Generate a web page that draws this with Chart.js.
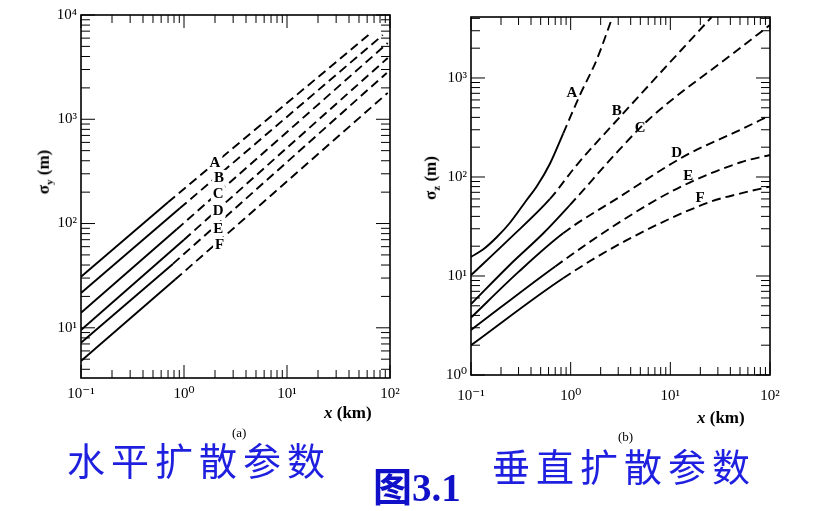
<!DOCTYPE html>
<html>
<head>
<meta charset="utf-8">
<script src="https://cdn.jsdelivr.net/npm/chart.js@4.4.1/dist/chart.umd.min.js"></script>
<style>
  body { margin: 0; background: #fff; width: 825px; height: 511px; position: relative; overflow: hidden; font-family: "Liberation Serif", "DejaVu Serif", serif; }
  canvas { position: absolute; top: 0; }
  .t { position: absolute; white-space: nowrap; color: #000; line-height: 1; }
  .ytitle { font-size: 17px; font-weight: bold; transform: translate(-50%, -50%) rotate(-90deg); }
  .ytitle sub { font-size: 11px; }
  .xtitle { font-size: 17px; font-weight: bold; }
  .cn { color: #1f1fe0; font-family: "Noto Sans CJK SC", sans-serif; font-size: 38px; letter-spacing: 6px; }
  .fig { color: #1010c8; font-family: "Liberation Serif", "Noto Sans CJK SC", serif; font-weight: bold; font-size: 39px; }
</style>
</head>
<body>
<canvas id="chartY" width="410" height="410" style="left:0"></canvas>
<canvas id="chartZ" width="415" height="410" style="left:410px"></canvas>

<div class="t ytitle" style="left:45px;top:172px">σ<sub>y</sub> (m)</div>
<div class="t ytitle" style="left:432px;top:178px">σ<sub>z</sub> (m)</div>
<div class="t xtitle" style="left:324px;top:404px"><i>x</i> (km)</div>
<div class="t xtitle" style="left:697px;top:409px"><i>x</i> (km)</div>
<div class="t" style="left:232px;top:426px;font-size:13px">(a)</div>
<div class="t" style="left:618px;top:430px;font-size:13px">(b)</div>
<div class="t cn" style="left:67px;top:440px">水平扩散参数</div>
<div class="t cn" style="left:492px;top:446px">垂直扩散参数</div>
<div class="t fig" style="left:373px;top:468px">图3.1</div>

<script>
// stability classes
const classes = ['A', 'B', 'C', 'D', 'E', 'F'];

// horizontal dispersion sigma_y (m) vs distance x (km)
const sigmaYDist = [
  [0.1, 0.70, 67],
  [0.1, 0.91, 85],
  [0.1, 0.85, 95],
  [0.1, 1.0, 95],
  [0.1, 0.78, 93],
  [0.1, 0.82, 95]
];
const sigmaYVal = [
  [30.8, 160, 6870],
  [21.6, 140, 6420],
  [13.9, 88, 5380],
  [9.5, 70, 3870],
  [7.2, 41, 2780],
  [4.8, 29, 1790]
];
const sigmaYDashFrom = [0.70, 0.91, 0.85, 1.0, 0.78, 0.82];
const sigmaYLabelX = [2.0, 2.19, 2.15, 2.15, 2.15, 2.22];
const sigmaYLabelY = [389, 280, 196, 135, 91, 64];

// vertical dispersion sigma_z (m) vs distance x (km)
const sigmaZDist = [
  [0.1, 0.133, 0.181, 0.246, 0.362, 0.456, 0.621, 0.843, 1.24, 1.82, 2.63],
  [0.1, 0.246, 0.62, 1.15, 3.2, 26],
  [0.1, 0.246, 0.532, 0.98, 3.1, 6.0, 42.9, 100],
  [0.1, 0.3, 0.84, 3.1, 14.6, 50, 100],
  [0.1, 0.7, 3.1, 11.6, 50, 100],
  [0.1, 0.84, 3.65, 25, 50, 100]
];
const sigmaZVal = [
  [15.6, 18.6, 24.6, 34.5, 58.6, 80, 137, 276, 675, 1520, 4130],
  [10.2, 24, 60, 132, 415, 4130],
  [5.2, 13, 27, 52, 190, 377, 1780, 3430],
  [3.8, 11, 27, 63, 167, 298, 420],
  [2.85, 12.5, 35, 76, 140, 167],
  [2.0, 9.5, 23, 56, 68, 80]
];
const sigmaZDashFrom = [0.843, 0.62, 0.98, 0.84, 0.7, 0.84];
const sigmaZLabelX = [1.03, 2.9, 4.97, 11.6, 15.1, 19.9];
const sigmaZLabelY = [722, 475, 322, 180, 105, 63];

// tick labels
const xTicks = [0.1, 1, 10, 100];
const xTickLabels = ['10⁻¹', '10⁰', '10¹', '10²'];
const yTicksY = [10, 100, 1000, 10000];
const yTickLabelsY = ['10¹', '10²', '10³', '10⁴'];
const yTicksZ = [1, 10, 100, 1000];
const yTickLabelsZ = ['10⁰', '10¹', '10²', '10³'];

const tickFont = { family: '"Liberation Serif", "DejaVu Serif", serif', size: 15 };

// inward log ticks on all four sides + frame
const frameTicks = {
  id: 'frameTicks',
  afterDatasetsDraw(chart) {
    const { ctx, chartArea: a, scales: { x, y } } = chart;
    const line = (x1, y1, x2, y2) => { ctx.beginPath(); ctx.moveTo(x1, y1); ctx.lineTo(x2, y2); ctx.stroke(); };
    const logSteps = (min, max) => {
      const out = [];
      for (let k = Math.floor(Math.log10(min)); k <= Math.ceil(Math.log10(max)); k++) {
        for (let m = 1; m <= 9; m++) {
          const v = m * Math.pow(10, k);
          if (v >= min * 0.999 && v <= max * 1.001) out.push([v, m === 1]);
        }
      }
      return out;
    };
    ctx.save();
    ctx.strokeStyle = '#000';
    ctx.lineWidth = 1;
    logSteps(x.min, x.max).forEach(([v, major]) => {
      const p = x.getPixelForValue(v);
      const L = major ? 13 : 8;
      line(p, a.bottom, p, a.bottom - L);
      line(p, a.top, p, a.top + L);
    });
    logSteps(y.min, y.max).forEach(([v, major]) => {
      const p = y.getPixelForValue(v);
      const L = major ? 14 : 9;
      line(a.left, p, a.left + L, p);
      line(a.right, p, a.right - L, p);
    });
    ctx.lineWidth = 1.6;
    ctx.strokeRect(a.left, a.top, a.right - a.left, a.bottom - a.top);
    ctx.restore();
  }
};

// stability class letters
const classLabels = {
  id: 'classLabels',
  afterDatasetsDraw(chart, args, opts) {
    const { ctx, scales: { x, y } } = chart;
    ctx.save();
    ctx.font = 'bold 15px "Liberation Serif", serif';
    ctx.textAlign = 'center';
    ctx.textBaseline = 'middle';
    classes.forEach((c, i) => {
      const px = x.getPixelForValue(opts.lx[i]);
      const py = y.getPixelForValue(opts.ly[i]);
      if (opts.knockout) {
        const w = ctx.measureText(c).width + 4;
        ctx.fillStyle = '#fff';
        ctx.fillRect(px - w / 2, py - 7, w, 14);
      }
      ctx.fillStyle = '#000';
      ctx.fillText(c, px, py + 1);
    });
    ctx.restore();
  }
};

function makeChart(id, dist, vals, dashFrom, yMin, yMax, yTicks, yLabels, sizes, labelOpts, tension) {
  const datasets = classes.map((c, i) => ({
    label: c,
    data: dist[i].map((xv, j) => ({ x: xv, y: vals[i][j] })),
    borderColor: '#000',
    borderWidth: 1.9,
    pointRadius: 0,
    fill: false,
    tension: tension,
    cubicInterpolationMode: tension ? 'monotone' : 'default',
    segment: {
      borderDash: ctx => (ctx.p0.parsed.x >= dashFrom[i] * 0.999 ? [9, 5] : undefined)
    }
  }));

  return new Chart(document.getElementById(id), {
    type: 'line',
    data: { datasets },
    options: {
      responsive: false,
      animation: false,
      layout: { padding: sizes.padding },
      plugins: { legend: { display: false }, tooltip: { enabled: false }, classLabels: labelOpts },
      scales: {
        x: {
          type: 'logarithmic',
          min: 0.1,
          max: 100,
          afterBuildTicks: s => { s.ticks = xTicks.map(v => ({ value: v })); },
          afterFit: s => { s.height = sizes.xh; },
          grid: { display: false, drawTicks: false },
          border: { display: false },
          ticks: {
            autoSkip: false, maxRotation: 0, padding: sizes.xpad, color: '#000', font: tickFont,
            callback: (v, idx) => xTickLabels[idx]
          }
        },
        y: {
          type: 'logarithmic',
          min: yMin,
          max: yMax,
          afterBuildTicks: s => { s.ticks = yTicks.map(v => ({ value: v })); },
          afterFit: s => { s.width = sizes.yw; },
          grid: { display: false, drawTicks: false },
          border: { display: false },
          ticks: {
            autoSkip: false, padding: 4, color: '#000', font: tickFont,
            callback: (v, idx) => yLabels[idx]
          }
        }
      }
    },
    plugins: [frameTicks, classLabels]
  });
}

makeChart('chartY', sigmaYDist, sigmaYVal, sigmaYDashFrom, 3.3, 10000, yTicksY, yTickLabelsY,
  { padding: { left: 0, top: 15, right: 20, bottom: 0 }, xh: 32, yw: 81, xpad: 7 },
  { lx: sigmaYLabelX, ly: sigmaYLabelY, knockout: true }, 0);

makeChart('chartZ', sigmaZDist, sigmaZVal, sigmaZDashFrom, 1, 4130, yTicksZ, yTickLabelsZ,
  { padding: { left: 0, top: 17, right: 55, bottom: 0 }, xh: 35, yw: 61, xpad: 12 },
  { lx: sigmaZLabelX, ly: sigmaZLabelY, knockout: false }, 0.3);
</script>
</body>
</html>
